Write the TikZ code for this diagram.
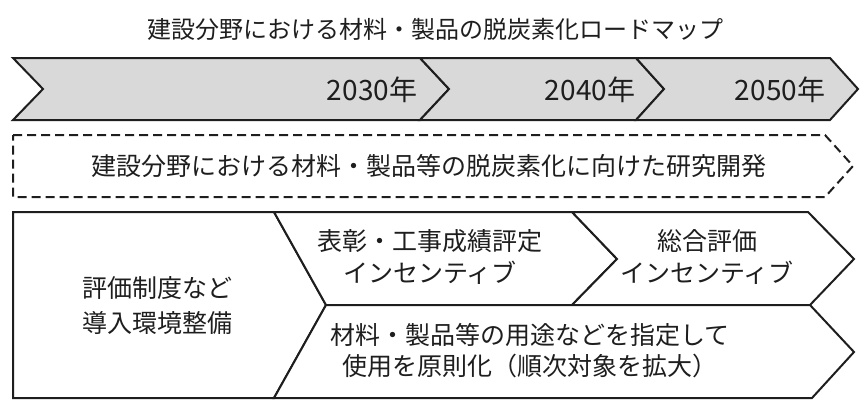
\documentclass[tikz,border=0pt]{standalone}
\usepackage{fontspec}
\setmainfont{Noto Sans CJK JP}
\usepackage{tikz}
\pgfdeclarelayer{bg}
\pgfsetlayers{bg,main}
\definecolor{bandgray}{HTML}{D9D9D9}
\definecolor{ink}{HTML}{1E1E1E}
\tikzset{
    every node/.style={inner sep=0mm, text=ink, align=center, font=\fontsize{25}{32}\selectfont}
}
\tikzset{year/.style={font=\fontsize{28}{32}\selectfont}}
\tikzset{box/.style={draw=ink, line width=2pt, line join=miter}}

\begin{document}
\begin{tikzpicture}[x=1pt, y=-1pt]
        \useasboundingbox (0,0) rectangle (867,413);
        \node (t0) [font=\fontsize{24}{28}\selectfont] at (435, 29) {建設分野における材料・製品の脱炭素化ロードマップ};
        \node (y1) [year] at (372, 90) {2030年};
        \node (y2) [year] at (590, 90) {2040年};
        \node (y3) [year] at (780, 90) {2050年};
        \node (r0) at (429, 166) {建設分野における材料・製品等の脱炭素化に向けた研究開発};
        \node (b0) [font=\fontsize{25}{35}\selectfont] at (157, 306) {評価制度など\\導入環境整備};
        \node (b1) at (430, 257) {表彰・工事成績評定\\インセンティブ};
        \node (b2) at (707, 257) {総合評価\\インセンティブ};
        \node (b3) [font=\fontsize{25}{31}\selectfont] at (530, 351) {材料・製品等の用途などを指定して\\使用を原則化（順次対象を拡大）};
        \begin{pgfonlayer}{bg}
                \draw [box, fill=bandgray] (13,58) -- (420,58) -- (449,89) -- (420,120) -- (13,120) -- (43,89) -- cycle;
                \draw [box, fill=bandgray] (420,58) -- (636,58) -- (664,89) -- (636,120) -- (420,120) -- (449,89) -- cycle;
                \draw [box, fill=bandgray] (636,58) -- (830,58) -- (858,89) -- (830,120) -- (636,120) -- (664,89) -- cycle;
                \draw [box, dash pattern=on 9pt off 5pt] (13,135) -- (825,135) -- (853,166) -- (825,197) -- (13,197) -- cycle;
                \draw [box, fill=white] (13,212) -- (274,212) -- (326,305) -- (274,398) -- (13,398) -- cycle;
                \draw [box, fill=white] (274,212) -- (572,212) -- (617,259) -- (572,305) -- (326,305) -- cycle;
                \draw [box, fill=white] (572,212) -- (808,212) -- (854,259) -- (810,305) -- (572,305) -- (617,259) -- cycle;
                \draw [box, fill=white] (326,305) -- (810,305) -- (854,352) -- (812,398) -- (274,398) -- cycle;
        \end{pgfonlayer}
\end{tikzpicture}
\end{document}
